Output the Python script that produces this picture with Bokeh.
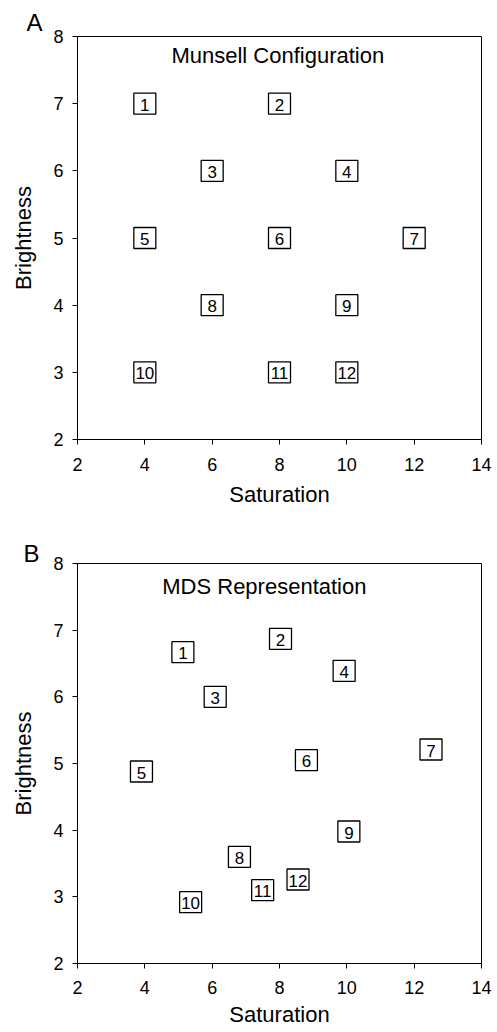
from bokeh.plotting import figure
from bokeh.layouts import column
from bokeh.models import Range1d, FixedTicker, Label, ColumnDataSource
from bokeh.core.properties import value
from bokeh.embed import file_html
from bokeh.resources import INLINE

# ---- data ----
stimulus_ids = ["1", "2", "3", "4", "5", "6", "7", "8", "9", "10", "11", "12"]
munsell_saturation = [4, 8, 6, 10, 4, 8, 12, 6, 10, 4, 8, 10]
munsell_brightness = [7, 7, 6, 6, 5, 5, 5, 4, 4, 3, 3, 3]
mds_saturation = [5.13, 8.03, 6.09, 9.92, 3.9, 8.8, 12.5, 6.81, 10.06, 5.36, 7.5, 8.55]
mds_brightness = [6.67, 6.87, 6.0, 6.39, 4.88, 5.05, 5.21, 3.6, 3.98, 2.92, 3.1, 3.26]
x_ticks = [2, 4, 6, 8, 10, 12, 14]
y_ticks = [2, 3, 4, 5, 6, 7, 8]
x_label = "Saturation"
y_label = "Brightness"

FONT = "Liberation Sans"


def make_panel(xs, ys, title, letter, height, top, bottom, s1, s2, title_xy,
               letter_offset, letter_standoff):
    p = figure(width=497, height=height, output_backend="svg", toolbar_location=None,
               x_range=Range1d(2, 14), y_range=Range1d(2, 8),
               min_border_left=77, min_border_right=16,
               min_border_top=top, min_border_bottom=bottom,
               title=letter, title_location="above")
    p.title.align = "left"
    p.title.offset = letter_offset
    p.title.standoff = letter_standoff
    p.title.text_font = FONT
    p.title.text_font_size = "24px"
    p.title.text_font_style = "normal"
    p.title.text_color = "black"

    p.xgrid.visible = False
    p.ygrid.visible = False
    p.outline_line_color = "black"
    p.outline_line_width = 1
    p.background_fill_color = "white"
    p.border_fill_color = "white"
    p.xaxis.ticker = FixedTicker(ticks=x_ticks)
    p.yaxis.ticker = FixedTicker(ticks=y_ticks)
    p.xaxis.axis_label = x_label
    p.yaxis.axis_label = y_label
    for ax in (p.xaxis[0], p.yaxis[0]):
        ax.major_tick_out = 5
        ax.major_tick_in = 0
        ax.minor_tick_line_color = None
        ax.axis_line_color = "black"
        ax.major_tick_line_color = "black"
        ax.major_label_text_font = FONT
        ax.major_label_text_font_size = "18px"
        ax.major_label_text_color = "black"
        ax.axis_label_text_font = FONT
        ax.axis_label_text_font_size = "22px"
        ax.axis_label_text_font_style = "normal"
        ax.axis_label_text_color = "black"
    p.xaxis.major_label_standoff = s1
    p.xaxis.axis_label_standoff = s2
    p.yaxis.major_label_standoff = 9
    p.yaxis.axis_label_standoff = 14

    src = ColumnDataSource(dict(x=xs, y=ys, t=stimulus_ids))
    p.rect("x", "y", width=22, height=21, width_units="screen", height_units="screen",
           source=src, fill_color="white", line_color="black", line_width=1.3)
    p.text("x", "y", text="t", source=src, text_align="center", text_baseline="middle",
           text_font=value(FONT), text_font_size="17px", text_color="black", y_offset=1)

    p.add_layout(Label(x=title_xy[0], y=title_xy[1], text=title, text_align="center",
                       text_baseline="middle", text_font=FONT, text_font_size="22px",
                       text_color="black"))
    return p


pA = make_panel(munsell_saturation, munsell_brightness, "Munsell Configuration", "A",
                520, 36, 81, 13, 8, (7.95, 7.71), -51, 1)
pB = make_panel(mds_saturation, mds_brightness, "MDS Representation", "B",
                512, 43, 69, 12, 5, (7.55, 7.66), -54, -6)

layout = column(pA, pB, spacing=0)
open("out.html", "w").write(file_html(layout, INLINE))
